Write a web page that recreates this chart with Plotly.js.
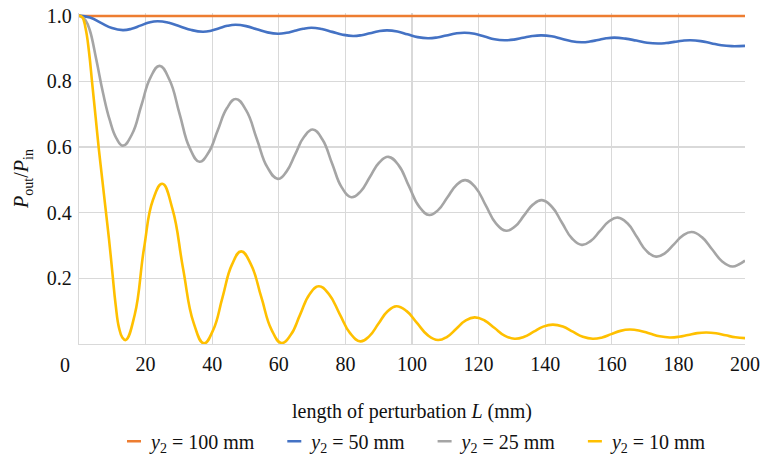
<!DOCTYPE html>
<html>
<head>
<meta charset="utf-8">
<script src="https://cdn.plot.ly/plotly-3.0.1.min.js"></script>
<style>
html,body{margin:0;padding:0;background:#fff;}
#chart{width:763px;height:457px;}
#chart .legendlines path{d:path("M16,0h14");}
</style>
</head>
<body>
<div id="chart"></div>
<script>
// y2 = 100 mm
const L100 = [0, 50, 100, 150, 200];
const P100 = [0.999, 0.999, 0.999, 0.999, 0.999];

// y2 = 50 mm
const L50 = [0, 3.3, 6.6, 9.9, 13.2, 15.8, 18.4, 21.0, 23.6, 27.0, 30.4, 33.8, 37.2, 39.65, 42.1, 44.55, 47.0, 50.2, 53.4, 56.6, 59.8, 62.3, 64.8, 67.3, 69.8, 72.9, 76.05, 79.2, 82.3, 84.85, 87.4, 89.95, 92.5, 95.6, 98.65, 101.7, 104.8, 107.55, 110.3, 113.05, 115.8, 118.8, 121.8, 124.8, 127.8, 130.6, 133.35, 136.1, 138.9, 141.9, 144.9, 147.9, 150.9, 153.4, 155.85, 158.3, 160.8, 164.1, 167.35, 170.6, 173.9, 176.3, 178.75, 181.2, 183.6, 186.7, 189.8, 192.9, 196.0, 200];
const P50 = [1.0, 0.994, 0.978, 0.962, 0.956, 0.960, 0.9695, 0.979, 0.983, 0.978, 0.967, 0.956, 0.951, 0.954, 0.9615, 0.969, 0.972, 0.968, 0.9585, 0.949, 0.945, 0.9476, 0.954, 0.960, 0.963, 0.959, 0.9505, 0.942, 0.938, 0.9405, 0.9465, 0.9525, 0.955, 0.9515, 0.943, 0.9345, 0.931, 0.9335, 0.9395, 0.9455, 0.948, 0.9446, 0.9365, 0.928, 0.925, 0.927, 0.9325, 0.938, 0.940, 0.937, 0.9295, 0.922, 0.919, 0.921, 0.926, 0.931, 0.933, 0.930, 0.924, 0.9175, 0.915, 0.9165, 0.920, 0.9235, 0.925, 0.9224, 0.916, 0.9096, 0.907, 0.908];

// y2 = 25 mm
const L25 = [0, 1, 2, 3.2, 5.2, 7.2, 9.2, 11.2, 13.2, 15.95, 18.7, 21.45, 24.2, 27.2, 30.2, 33.2, 36.2, 38.9, 41.65, 44.4, 47.1, 50.25, 53.4, 56.55, 59.7, 62.3, 64.95, 67.6, 70.2, 73.1, 76.0, 78.9, 81.8, 84.6, 87.35, 90.1, 92.9, 96.0, 99.05, 102.1, 105.2, 107.9, 110.6, 113.3, 116.0, 119.1, 122.15, 125.2, 128.3, 131.0, 133.65, 136.3, 139.0, 142.0, 145.0, 148.0, 151.0, 153.7, 156.4, 159.1, 161.8, 164.7, 167.55, 170.4, 173.3, 176.0, 178.65, 181.3, 184.0, 187.05, 190.1, 193.15, 196.2, 198.1, 200];
const P25 = [1.0, 0.995, 0.985, 0.957, 0.866, 0.765, 0.683, 0.627, 0.604, 0.6395, 0.7255, 0.8115, 0.847, 0.804, 0.701, 0.598, 0.555, 0.583, 0.6505, 0.718, 0.746, 0.7105, 0.6245, 0.5385, 0.503, 0.525, 0.578, 0.631, 0.653, 0.623, 0.550, 0.477, 0.447, 0.465, 0.5085, 0.552, 0.570, 0.544, 0.4815, 0.419, 0.393, 0.4085, 0.446, 0.4835, 0.499, 0.4765, 0.422, 0.3675, 0.345, 0.3585, 0.3915, 0.4245, 0.438, 0.418, 0.370, 0.322, 0.302, 0.314, 0.3435, 0.373, 0.385, 0.3675, 0.3255, 0.2835, 0.266, 0.277, 0.3035, 0.330, 0.341, 0.3255, 0.2885, 0.2515, 0.236, 0.242, 0.254];

// y2 = 10 mm
const L10 = [0, 1, 2, 3, 4, 5, 6, 7, 8, 9, 10, 11, 12, 13, 14.0, 16.75, 19.5, 22.25, 25.0, 28.1, 31.25, 34.4, 37.5, 40.3, 43.1, 45.9, 48.7, 51.7, 54.75, 57.8, 60.8, 63.6, 66.4, 69.2, 72.0, 75.1, 78.25, 81.4, 84.5, 87.2, 89.9, 92.6, 95.3, 98.4, 101.55, 104.7, 107.8, 110.55, 113.3, 116.05, 118.8, 121.8, 124.8, 127.8, 130.8, 133.7, 136.55, 139.4, 142.3, 145.3, 148.3, 151.3, 154.3, 157.1, 159.85, 162.6, 165.4, 168.4, 171.4, 174.4, 177.4, 180.15, 182.9, 185.65, 188.4, 191.3, 194.2, 197.1, 200];
const P10 = [1.0, 0.995, 0.96, 0.89, 0.79, 0.69, 0.59, 0.50, 0.41, 0.32, 0.22, 0.12, 0.05, 0.02, 0.012, 0.09, 0.29, 0.44, 0.488, 0.41, 0.23, 0.065, 0.002, 0.043, 0.142, 0.241, 0.282, 0.241, 0.1425, 0.044, 0.003, 0.028, 0.0895, 0.151, 0.176, 0.151, 0.092, 0.033, 0.008, 0.024, 0.0615, 0.099, 0.115, 0.100, 0.0635, 0.027, 0.012, 0.022, 0.0465, 0.071, 0.081, 0.0715, 0.0485, 0.0255, 0.016, 0.022, 0.0375, 0.053, 0.059, 0.053, 0.0375, 0.022, 0.016, 0.020, 0.030, 0.040, 0.044, 0.0405, 0.032, 0.0235, 0.020, 0.022, 0.0275, 0.033, 0.035, 0.0325, 0.0265, 0.0205, 0.018];

const xTicks = [0, 20, 40, 60, 80, 100, 120, 140, 160, 180, 200];
const xTickText = ['', '20', '40', '60', '80', '100', '120', '140', '160', '180', '200'];
const yTicks = [0.2, 0.4, 0.6, 0.8, 1.0];
const yTickText = ['0.2', '0.4', '0.6', '0.8', '1.0'];

const PAD = '\u00a0\u00a0';
const seriesNames = ['<i>y</i><sub>2</sub> = 100 mm' + PAD, '<i>y</i><sub>2</sub> = 50 mm' + PAD, '<i>y</i><sub>2</sub> = 25 mm' + PAD, '<i>y</i><sub>2</sub> = 10 mm'];
const seriesColors = ['#ED7D31', '#4472C4', '#A5A5A5', '#FFC000'];
const seriesX = [L100, L50, L25, L10];
const seriesY = [P100, P50, P25, P10];

const FONT = 'Liberation Serif';
const TXT = '#111111';

const traces = seriesX.map((xs, i) => ({
  x: xs, y: seriesY[i], type: 'scatter', mode: 'lines', name: seriesNames[i],
  line: {color: seriesColors[i], width: 2.6, shape: 'spline', smoothing: 1.3},
  hoverinfo: 'skip'
}));

const layout = {
  width: 763, height: 457,
  margin: {l: 79, r: 18, t: 13, b: 113, pad: 0, autoexpand: false},
  paper_bgcolor: '#fff', plot_bgcolor: '#fff',
  font: {family: FONT, size: 20, color: TXT},
  showlegend: true,
  legend: {orientation: 'h', x: 0.5, xref: 'paper', xanchor: 'center', y: -0.235, yanchor: 'top',
           font: {family: FONT, size: 20, color: TXT}, itemwidth: 30, tracegroupgap: 0},
  xaxis: {
    range: [0, 200], tickvals: xTicks, ticktext: xTickText, showgrid: true, automargin: false,
    gridcolor: '#d9d9d9', gridwidth: 1.3, zeroline: false, showline: true, linecolor: '#d9d9d9', linewidth: 1.3,
    ticks: '', tickfont: {family: FONT, size: 20, color: TXT}, ticklabelstandoff: 2,
    title: {text: 'length of perturbation <i>L</i> (mm)', font: {family: FONT, size: 20, color: TXT}, standoff: 29}
  },
  yaxis: {
    range: [0, 1.008], tickvals: yTicks, ticktext: yTickText, showgrid: true, automargin: false,
    gridcolor: '#d9d9d9', gridwidth: 1.3, zeroline: false, showline: true, linecolor: '#d9d9d9', linewidth: 1.3,
    ticks: '', tickfont: {family: FONT, size: 20, color: TXT}, ticklabelstandoff: 2,
    title: {text: '<i>P</i><sub>out</sub>/<i>P</i><sub>in</sub>', font: {family: FONT, size: 20, color: TXT}, standoff: 12}
  },
  annotations: [{text: '0', xref: 'x', yref: 'paper', x: 0, y: 0, xshift: -14, yshift: -21, showarrow: false,
                 xanchor: 'center', yanchor: 'middle', font: {family: FONT, size: 20, color: TXT}}]
};

Plotly.newPlot('chart', traces, layout, {staticPlot: true, displayModeBar: false});
</script>
</body>
</html>
